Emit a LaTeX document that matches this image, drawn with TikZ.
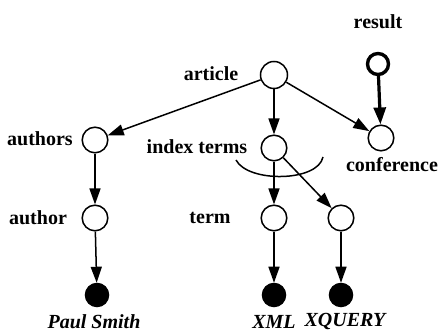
\documentclass[tikz,border=0pt]{standalone}
\usepackage{fontspec}
\setmainfont{Liberation Serif}
\usetikzlibrary{arrows.meta}
\begin{document}
\begin{tikzpicture}[x=0.5pt,y=-0.5pt,
  vnode/.style={circle,draw,line width=0.75pt,minimum size=12.8pt,inner sep=0pt,fill=white},
  leaf/.style={circle,fill=black,draw,line width=0.75pt,minimum size=11.5pt,inner sep=0pt},
  lbl/.style={font=\fontsize{10}{12}\selectfont\bfseries,inner sep=0pt},
  vlbl/.style={font=\fontsize{10}{12}\selectfont\bfseries\itshape,inner sep=0pt},
  edge/.style={line width=0.75pt,-{Triangle[length=8pt,width=5.5pt]}},
  thickedge/.style={line width=1.6pt,-{Triangle[length=8.5pt,width=6pt]}}]
\useasboundingbox (0,0) rectangle (441,335);
\node[vnode,minimum size=13.5pt] (article) at (274,75) {};
\node[vnode,line width=1.7pt,minimum size=10.5pt] (result) at (378,64) {};
\node[vnode] (conf) at (381,138) {};
\node[vnode] (authors) at (95,140) {};
\node[vnode] (idx) at (274,148) {};
\node[vnode] (author) at (95,218) {};
\node[vnode] (term) at (274,218) {};
\node[vnode] (xq) at (341,218) {};
\node[leaf] (b1) at (97,295) {};
\node[leaf] (b2) at (274,295) {};
\node[leaf] (b3) at (341,295) {};
\node[lbl] (lresult) at (378,22) {result};
\node[lbl] (larticle) at (211,74) {article};
\node[lbl] (lauthors) at (40,139) {authors};
\node[lbl] (lidx) at (197,147) {index terms};
\node[lbl] (lconf) at (392,165) {conference};
\node[lbl] (lauthor) at (38,218) {author};
\node[lbl] (lterm) at (210,218) {term};
\node[vlbl] (lps) at (94,322) {Paul Smith};
\node[vlbl] (lxml) at (274,322) {XML};
\node[vlbl] (lxq) at (345,322) {XQUERY};
\draw[line width=0.75pt] (236,160) .. controls (248,183) and (318,182) .. (323,157);
\draw[edge] (article) -- (authors);
\draw[edge] (article) -- (idx);
\draw[edge] (article) -- (conf);
\draw[thickedge] (result) -- (conf);
\draw[edge] (authors) -- (author);
\draw[edge] (author) -- (b1);
\draw[edge] (idx) -- (term);
\draw[edge] (idx) -- (xq);
\draw[edge] (term) -- (b2);
\draw[edge] (xq) -- (b3);
\end{tikzpicture}
\end{document}
